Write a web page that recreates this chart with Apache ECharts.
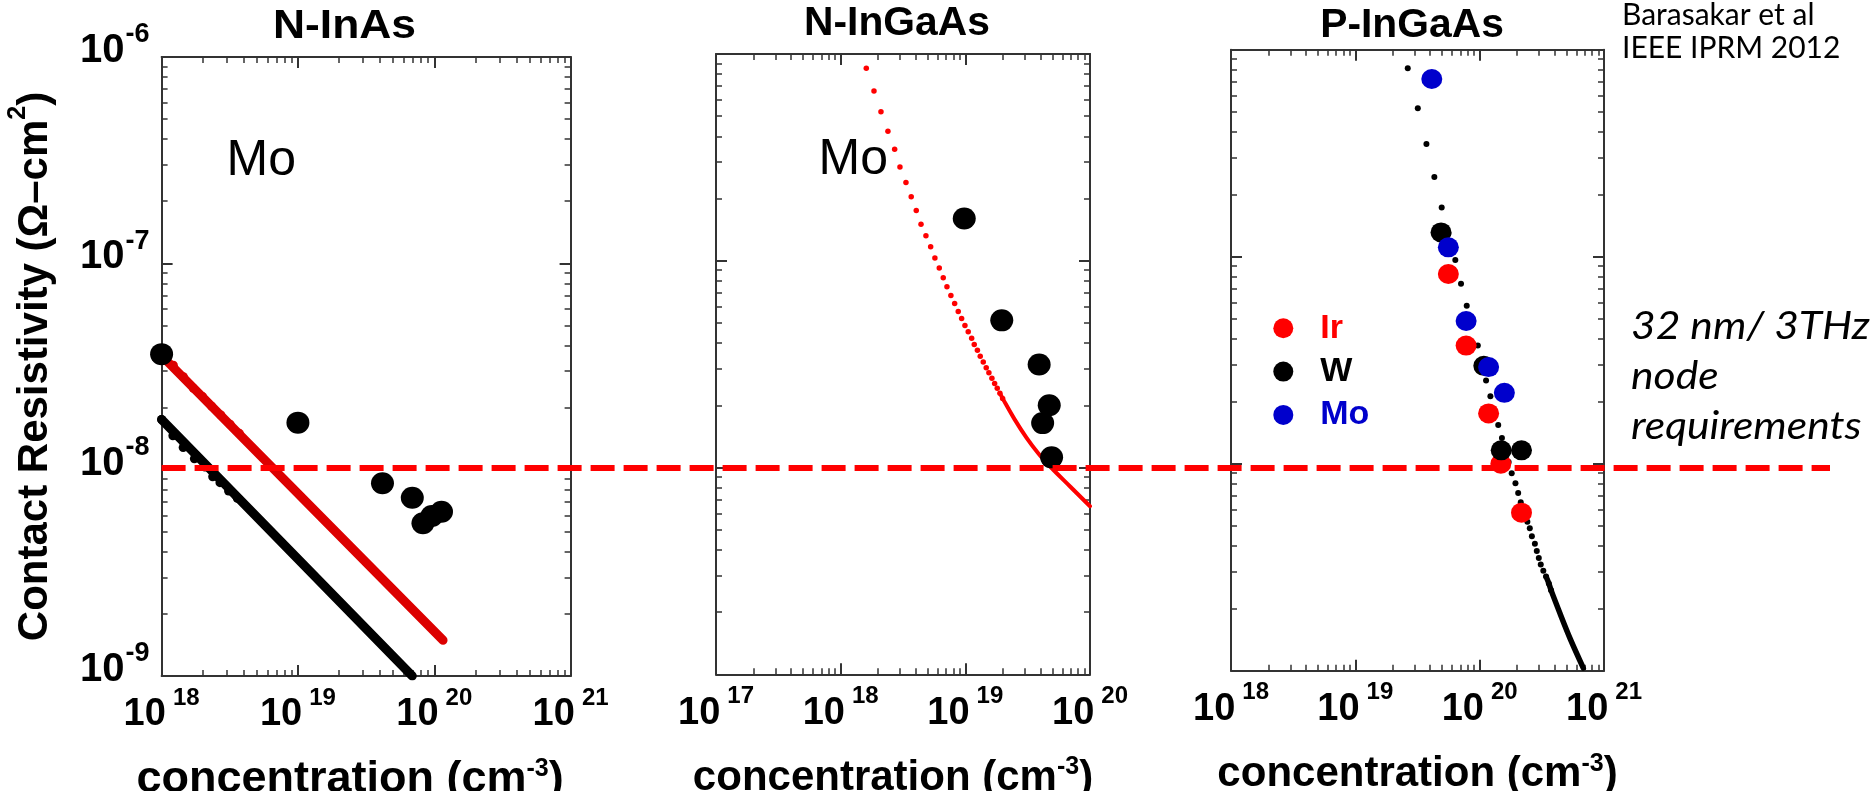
<!DOCTYPE html>
<html>
<head>
<meta charset="utf-8">
<script src="https://cdn.jsdelivr.net/npm/echarts@6/dist/echarts.min.js"></script>
<style>
  html, body { margin: 0; padding: 0; background: #ffffff; }
  #chart { width: 1876px; height: 791px; }
</style>
</head>
<body>
<div id="chart"></div>
<script>
// ---------- axis decades (powers of ten) ----------
const inasXExp = [18, 19, 20, 21];
const ingaasNXExp = [17, 18, 19, 20];
const ingaasPXExp = [18, 19, 20, 21];
const rhoExp = [-9, -8, -7, -6];

const panelTitles = ['N-InAs', 'N-InGaAs', 'P-InGaAs'];
const xName = 'concentration (cm';
const xNameSup = '-3';
const yName = 'Contact Resistivity (\u03A9\u2013cm';
const yNameSup = '2';

// ---------- N-InAs (concentration cm^-3, resistivity ohm-cm^2) ----------
const inasMoMeasured = [[1.0e18, 3.63e-8], [1.0e19, 1.69e-8], [4.17e19, 8.6e-9], [6.9e19, 7.31e-9],
  [8.26e19, 5.5e-9], [9.6e19, 5.96e-9], [1.13e20, 6.25e-9]];
const inasMoModel = [[1.1e18, 3.35e-8], [1.16e20, 1.49e-9]];
const inasMoModelDots = [[1.22e18, 3.21e-8], [1.445e18, 2.82e-8], [1.71e18, 2.48e-8], [2.0e18, 2.26e-8],
  [2.33e18, 2.03e-8], [2.72e18, 1.84e-8], [3.18e18, 1.66e-8], [3.72e18, 1.5e-8]];
const inasWModel = [[1.0e18, 1.75e-8], [6.9e19, 1.0e-9]];
const inasWModelDots = [[1.0e18, 1.75e-8], [1.21e18, 1.46e-8], [1.44e18, 1.28e-8], [1.74e18, 1.13e-8],
  [2.08e18, 1.03e-8], [2.37e18, 9.24e-9], [2.68e18, 8.65e-9], [3.10e18, 7.88e-9], [3.59e18, 7.26e-9]];

// ---------- N-InGaAs ----------
const ingaasNMeasured = [[9.8e18, 1.60e-7], [1.96e19, 5.15e-8], [3.91e19, 3.15e-8], [4.71e19, 2.0e-8],
  [4.17e19, 1.64e-8], [4.92e19, 1.12e-8]];
const ingaasNModelDots = [[1.605e18, 8.53e-7], [1.85e18, 6.62e-7], [2.105e18, 5.25e-7], [2.394e18, 4.23e-7],
  [2.71e18, 3.46e-7], [2.99e18, 2.84e-7], [3.34e18, 2.39e-7], [3.68e18, 2.04e-7], [4.04e18, 1.75e-7],
  [4.41e18, 1.50e-7], [4.83e18, 1.32e-7], [5.27e18, 1.17e-7], [5.70e18, 1.03e-7], [6.18e18, 9.22e-8],
  [6.65e18, 8.28e-8], [7.12e18, 7.49e-8], [7.66e18, 6.80e-8], [8.21e18, 6.22e-8], [8.77e18, 5.69e-8],
  [9.34e18, 5.26e-8], [9.93e18, 4.87e-8], [1.055e19, 4.53e-8], [1.124e19, 4.22e-8], [1.179e19, 3.94e-8],
  [1.25e19, 3.69e-8], [1.317e19, 3.45e-8], [1.392e19, 3.24e-8], [1.471e19, 3.04e-8], [1.546e19, 2.87e-8],
  [1.634e19, 2.70e-8], [1.718e19, 2.55e-8], [1.803e19, 2.42e-8], [1.894e19, 2.29e-8], [1.991e19, 2.16e-8]];
const ingaasNModel = [[1.894e19, 2.29e-8], [1.991e19, 2.16e-8], [2.485e19, 1.709e-8], [3.10e19, 1.391e-8],
  [3.87e19, 1.166e-8], [4.83e19, 1.006e-8], [6.99e19, 8.05e-9], [1.0e20, 6.5e-9]];

// ---------- P-InGaAs ----------
const ingaasPModelDots = [[2.64e19, 8.13e-7], [3.18e19, 5.21e-7], [3.73e19, 3.50e-7], [4.32e19, 2.43e-7],
  [4.95e19, 1.73e-7], [5.60e19, 1.29e-7], [6.37e19, 9.64e-8], [7.08e19, 7.41e-8], [7.87e19, 5.80e-8],
  [8.63e19, 4.68e-8], [9.66e19, 3.72e-8], [1.045e20, 3.07e-8], [1.126e20, 2.52e-8], [1.22e20, 2.12e-8],
  [1.31e20, 1.81e-8], [1.41e20, 1.54e-8], [1.51e20, 1.33e-8], [1.61e20, 1.16e-8], [1.71e20, 1.02e-8],
  [1.81e20, 8.99e-9], [1.94e20, 8.04e-9], [2.04e20, 7.22e-9], [2.14e20, 6.51e-9], [2.28e20, 5.85e-9],
  [2.42e20, 5.25e-9], [2.53e20, 4.88e-9], [2.63e20, 4.46e-9], [2.78e20, 4.11e-9], [2.88e20, 3.79e-9],
  [2.99e20, 3.50e-9], [3.10e20, 3.26e-9], [3.25e20, 3.04e-9], [3.42e20, 2.85e-9], [3.60e20, 2.64e-9],
  [3.75e20, 2.45e-9]];
const ingaasPModel = [[3.42e20, 2.85e-9], [3.60e20, 2.64e-9], [3.75e20, 2.45e-9], [4.43e20, 1.89e-9],
  [5.34e20, 1.43e-9], [6.82e20, 1.03e-9]];
const ingaasPIr = [[5.60e19, 8.25e-8], [7.78e19, 3.72e-8], [1.18e20, 1.75e-8], [1.48e20, 1.0e-8], [2.17e20, 5.8e-9]];
const ingaasPW = [[4.89e19, 1.31e-7], [1.08e20, 2.97e-8], [1.49e20, 1.16e-8], [2.17e20, 1.16e-8]];
const ingaasPMo = [[4.12e19, 7.22e-7], [5.60e19, 1.11e-7], [7.78e19, 4.89e-8], [1.18e20, 2.93e-8], [1.58e20, 2.20e-8]];

// 32 nm / 3 THz node requirement level
const requirementLevel = 1.02e-8;

// ---------- styling ----------
const FONT = '"Liberation Sans", Arial, Helvetica, sans-serif';
const NOTE_FONT = 'Lato, "Open Sans", sans-serif';
const FRAME = '#333333';
const RED = '#ff0000';
const DARK_RED = '#dc0000';
const BLUE = '#0000cc';

const grids = [
  { left: 161.6, top: 57, width: 409, height: 619 },
  { left: 716, top: 54, width: 374, height: 620.3 },
  { left: 1231, top: 49.7, width: 373, height: 621 }
];

// superscripts: a short token box pinned to the top of the line raises the exponent
const xTickRich = {
  b: { fontFamily: FONT, fontWeight: 'bold', fontSize: 38, lineHeight: 40, color: '#000' },
  g: { width: 7, height: 8, fontSize: 8, lineHeight: 8 },
  s: { fontFamily: FONT, fontWeight: 'bold', fontSize: 24, height: 6, lineHeight: 6, verticalAlign: 'top', color: '#000' }
};
const yTickRich = {
  b: { fontFamily: FONT, fontWeight: 'bold', fontSize: 40, lineHeight: 40, color: '#000' },
  g: { width: 1, height: 8, fontSize: 8, lineHeight: 8 },
  s: { fontFamily: FONT, fontWeight: 'bold', fontSize: 27, height: 8, lineHeight: 8, verticalAlign: 'top', color: '#000' }
};
const nameRich = (size, supBox) => ({
  b: { fontFamily: FONT, fontWeight: 'bold', fontSize: size, lineHeight: 44, color: '#000' },
  s: { fontFamily: FONT, fontWeight: 'bold', fontSize: 25, height: supBox, lineHeight: supBox,
    verticalAlign: 'top', color: '#000' }
});

const pow10 = e => Number('1e' + e);
// keep the end values a hair inside the axis extent so they are never filtered out
const majorValues = exps => exps.map((e, i) => {
  const v = pow10(e);
  if (i === 0) return v * (1 + 1e-9);
  if (i === exps.length - 1) return v * (1 - 1e-9);
  return v;
});
const minorValues = exps => {
  const out = [];
  for (let i = 0; i < exps.length - 1; i++) {
    for (let k = 2; k <= 9; k++) out.push(k * pow10(exps[i]));
  }
  return out;
};
const expLabel = v => '{b|10}{g| }{s|' + Math.round(Math.log10(v)) + '}';

// major + minor tick axes on both edges of a panel
function makeAxes(dim, gridIndex, exps, opts) {
  const min = pow10(exps[0]);
  const max = pow10(exps[exps.length - 1]);
  const sides = dim === 'x' ? ['bottom', 'top'] : ['left', 'right'];
  const base = {
    type: 'log', logBase: 10, gridIndex, min, max,
    splitLine: { show: false }, silent: true,
    axisPointer: { show: false },
    axisLine: { show: false, onZero: false },
    axisLabel: { show: false },
    axisTick: { show: false }
  };
  const axes = [];
  sides.forEach((side, si) => {
    const major = Object.assign({}, base, {
      position: side,
      axisLine: { show: true, onZero: false, lineStyle: { color: FRAME, width: 2 } },
      axisTick: { show: true, inside: true, length: 11, customValues: majorValues(exps),
        lineStyle: { color: FRAME, width: 2 } }
    });
    if (si === 0 && opts.labels) {
      major.axisLabel = Object.assign({
        show: true, customValues: majorValues(exps), formatter: expLabel
      }, opts.labelExtra || {});
    }
    if (si === 0 && opts.name) Object.assign(major, opts.name);
    const minor = Object.assign({}, base, {
      position: side,
      axisTick: { show: true, inside: true, length: 6, customValues: minorValues(exps),
        lineStyle: { color: FRAME, width: 1.5 } }
    });
    axes.push(major, minor);
  });
  return axes;
}

const xNameOpt = (size, shift) => ({
  name: '{b|' + xName + '}{s|' + xNameSup + '}{b|)}',
  nameLocation: 'middle', nameGap: 82,
  nameTextStyle: { rich: nameRich(size, 22), padding: [0, shift, 0, 0] }
});
const xLabelOpt = { margin: 19, rich: xTickRich };

const xAxes = [].concat(
  makeAxes('x', 0, inasXExp, { labels: true, labelExtra: xLabelOpt, name: xNameOpt(45, 32) }),
  makeAxes('x', 1, ingaasNXExp, { labels: true, labelExtra: xLabelOpt, name: xNameOpt(42, 20) }),
  makeAxes('x', 2, ingaasPXExp, { labels: true, labelExtra: xLabelOpt, name: xNameOpt(42, 0) })
);
const yAxes = [].concat(
  makeAxes('y', 0, rhoExp, {
    labels: true, labelExtra: { margin: 12, padding: [0, 0, 12, 0], rich: yTickRich },
    name: {
      name: '{b|' + yName + '}{s|' + yNameSup + '}{b|)}',
      nameLocation: 'middle', nameGap: 104, nameRotate: 90,
      nameTextStyle: { rich: nameRich(42, 10) }
    }
  }),
  makeAxes('y', 1, rhoExp, { labels: false }),
  makeAxes('y', 2, rhoExp, { labels: false })
);

// each panel's data uses its first (major, bottom/left) axes: index = panel * 4
const ax = p => ({ xAxisIndex: p * 4, yAxisIndex: p * 4 });
const dots = (name, p, data, size, color, z, clip) => Object.assign({
  name, type: 'scatter', data, symbolSize: size,
  itemStyle: { color, opacity: 1 }, z, clip: clip !== false
}, ax(p));
const curve = (name, p, data, width, color, smooth) => Object.assign({
  name, type: 'line', data, showSymbol: false, symbol: 'none', smooth: smooth || false,
  lineStyle: { color, width, cap: 'round', opacity: 1 }, z: 2
}, ax(p));

const series = [
  // N-InAs
  curve('InAs Mo model', 0, inasMoModel, 9, DARK_RED),
  dots('InAs Mo model pts', 0, inasMoModelDots, 9, DARK_RED, 2),
  curve('InAs W model', 0, inasWModel, 9, '#000'),
  dots('InAs W model pts', 0, inasWModelDots, 9, '#000', 2),
  dots('InAs Mo', 0, inasMoMeasured, [23, 22], '#000', 4, false),
  // N-InGaAs
  dots('n-InGaAs Mo model pts', 1, ingaasNModelDots, 5.5, RED, 2),
  curve('n-InGaAs Mo model', 1, ingaasNModel, 4, RED, 0.4),
  dots('n-InGaAs Mo', 1, ingaasNMeasured, [23, 22], '#000', 4, false),
  // P-InGaAs
  dots('p-InGaAs model pts', 2, ingaasPModelDots, 6, '#000', 2),
  curve('p-InGaAs model', 2, ingaasPModel, 5.5, '#000', 0.3),
  dots('Ir', 2, ingaasPIr, [21, 20], RED, 3, false),
  dots('W', 2, ingaasPW, [21, 20], '#000', 4, false),
  dots('Mo', 2, ingaasPMo, [21, 20], BLUE, 5, false)
];
series.forEach(s => { s.silent = true; s.emphasis = { disabled: true }; });

const legendText = color => ({
  color, fontFamily: FONT, fontWeight: 'bold', fontSize: 34, lineHeight: 34, padding: [0, 0, 0, 22]
});

const chart = echarts.init(document.getElementById('chart'), null, { renderer: 'canvas' });
chart.setOption({
  animation: false,
  backgroundColor: '#ffffff',
  grid: grids.map(g => Object.assign({ containLabel: false, outerBoundsMode: 'none' }, g)),
  xAxis: xAxes,
  yAxis: yAxes,
  legend: {
    data: [
      { name: 'Ir', textStyle: legendText(RED), itemStyle: { opacity: 1 } },
      { name: 'W', textStyle: legendText('#000'), itemStyle: { opacity: 1 } },
      { name: 'Mo', textStyle: legendText(BLUE), itemStyle: { opacity: 1 } }
    ],
    orient: 'vertical', left: 1268.3, top: 306.3,
    icon: 'circle', itemWidth: 20, itemHeight: 20, itemGap: 9.3,
    selectedMode: false,
    textStyle: legendText('#000')
  },
  series
});

// requirement line spans the whole figure at the requirement level of the first panel
const reqPt = chart.convertToPixel({ xAxisIndex: 0, yAxisIndex: 0 }, [pow10(inasXExp[0]), requirementLevel]);

const text = (x, y, str, font, opts) => Object.assign({
  type: 'text', x, y, z: 50, silent: true,
  style: { text: str, font, fill: (opts && opts.fill) || '#000', align: (opts && opts.align) || 'left',
    verticalAlign: 'middle' }
}, opts && opts.scaleX ? { scaleX: opts.scaleX } : {});

chart.setOption({
  graphic: [
    { type: 'line', z: 100, silent: true,
      shape: { x1: reqPt[0], y1: reqPt[1], x2: 1830, y2: reqPt[1] },
      style: { stroke: RED, lineWidth: 6, lineDash: [24, 9] } },
    text(344.5, 27, panelTitles[0], 'bold 40px ' + FONT, { align: 'center', scaleX: 1.11 }),
    text(897, 24, panelTitles[1], 'bold 40px ' + FONT, { align: 'center', scaleX: 1.02 }),
    text(1412, 26, panelTitles[2], 'bold 40px ' + FONT, { align: 'center', scaleX: 1.02 }),
    text(226.5, 161, 'Mo', '50px ' + FONT),
    text(818.6, 160, 'Mo', '50px ' + FONT),
    text(1622, 15, 'Barasakar et al', '30px ' + NOTE_FONT),
    text(1622, 48, 'IEEE IPRM 2012', '30px ' + NOTE_FONT),
    text(1631, 327, '32 nm/ 3THz', 'italic 38px ' + NOTE_FONT, { scaleX: 1.12 }),
    text(1631, 377, 'node', 'italic 38px ' + NOTE_FONT, { scaleX: 1.12 }),
    text(1631, 427, 'requirements', 'italic 38px ' + NOTE_FONT, { scaleX: 1.12 })
  ]
});
</script>
</body>
</html>
